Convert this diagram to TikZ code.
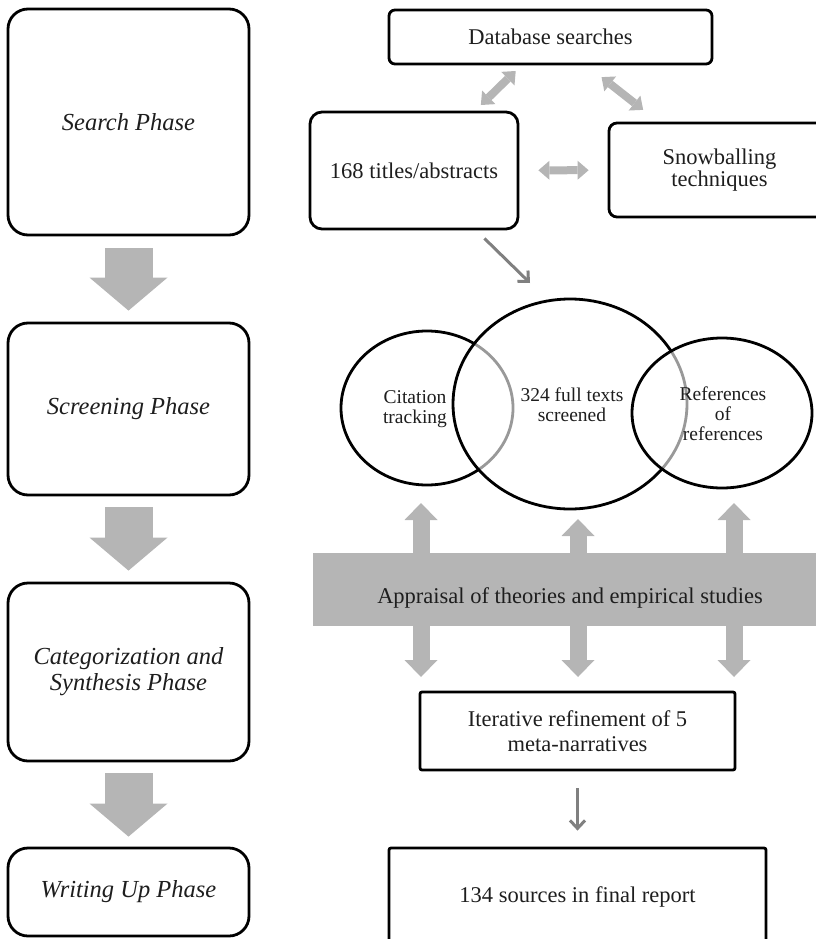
\documentclass[tikz,border=0pt]{standalone}
\usepackage{fontspec}
\setmainfont{Liberation Serif}
\usetikzlibrary{arrows.meta,shapes.geometric}
\definecolor{blk}{HTML}{B5B5B5}
\definecolor{thinc}{HTML}{808080}
\definecolor{txtc}{HTML}{1E1E1E}
\begin{document}
\begin{tikzpicture}[x=1pt,y=-1pt,
  phase/.style={draw, line width=2.8pt, rounded corners=20pt, minimum width=241pt,
    align=center, inner sep=0pt, text=txtc, font=\fontsize{24.5}{26}\selectfont\itshape},
  box/.style={draw, line width=2.8pt, align=center, inner sep=0pt, text=txtc,
    font=\fontsize{22.5}{25}\selectfont},
  ell/.style={draw, ellipse, line width=2.8pt, inner sep=0pt, fill=white, fill opacity=0.6},
  ctext/.style={align=center, text=txtc, font=\fontsize{19.5}{20}\selectfont},
  blockarrow/.style={draw=blk, line width=48pt, -{Triangle[width=78pt,length=33pt,line width=0pt]}},
  smallarrow/.style={draw=blk, line width=8pt,
    {Triangle[width=19pt,length=11pt,line width=0pt]}-{Triangle[width=19pt,length=11pt,line width=0pt]}},
  vbar/.style={draw=blk, line width=17pt, -{Triangle[width=33pt,length=17pt,line width=0pt]}},
  thinarrow/.style={draw=thinc, line width=3pt, -{Straight Barb[width=15pt,length=8pt]}}
]
\useasboundingbox (0,0) rectangle (815,939);

% left column
\node[phase, minimum height=226pt] (search) at (128.5,122) {Search Phase};
\node[phase, minimum height=172pt] (screen) at (128.5,409) {Screening Phase};
\node[phase, minimum height=178pt] (categ) at (128.5,672) {Categorization and\\Synthesis Phase};
\node[phase, minimum height=88pt] (write) at (128.5,892) {Writing Up Phase};

\draw[blockarrow, shorten <=12pt, shorten >=11pt] (search) -- (screen);
\draw[blockarrow, shorten <=11pt, shorten >=11pt] (screen) -- (categ);
\draw[blockarrow, shorten <=11pt, shorten >=10pt] (categ) -- (write);

% right top
\node[box, rounded corners=6pt, minimum width=323pt, minimum height=54pt] (db) at (550.5,37) {Database searches};
\node[box, rounded corners=12pt, minimum width=208pt, minimum height=117pt] (titles) at (414,170.5) {168 titles/abstracts};
\node[box, rounded corners=8pt, minimum width=221pt, minimum height=94pt,
  font=\fontsize{22.5}{21.5}\selectfont] (snow) at (719.5,170) {Snowballing\\techniques};

\draw[smallarrow, shorten <=8pt, shorten >=8pt] (db) -- (titles);
\draw[smallarrow, shorten <=19pt, shorten >=19pt] (db) -- (snow);
\draw[smallarrow, shorten <=19pt, shorten >=19pt] (titles) -- (snow);

\coordinate (t2) at (530,283);
\draw[thinarrow] ([shift={(-35,8)}]titles.south east) -- (t2);

% circles
\node[ell, minimum width=172pt, minimum height=154pt] (cit) at (427,408) {};
\node[ell, minimum width=234pt, minimum height=210pt] (full) at (570,404) {};
\node[ell, minimum width=180pt, minimum height=150pt] (refs) at (722,413) {};
\node[ctext] (citt) at (415,409) {Citation\\tracking};
\node[ctext] (fullt) at (572,405) {324 full texts\\screened};
\node[ctext] (refst) at (723,414) {References\\of\\references};

% band
\node[fill=blk, minimum width=517pt, minimum height=73pt, inner sep=0pt] (band) at (571.5,589.5) {};
\node[text=txtc, font=\fontsize{22.5}{25}\selectfont] (bandt) at (570,598) {Appraisal of theories and empirical studies};

\coordinate (u1) at (421,503);
\coordinate (u2) at (578,519);
\coordinate (u3) at (734,503);
\coordinate (d1) at (421,677);
\coordinate (d2) at (578,677);
\coordinate (d3) at (734,677);
\draw[vbar] ([yshift=-2pt]u1 |- band.north) -- (u1);
\draw[vbar] ([yshift=-2pt]u2 |- band.north) -- (u2);
\draw[vbar] ([yshift=-2pt]u3 |- band.north) -- (u3);
\draw[vbar] ([yshift=2pt]d1 |- band.south) -- (d1);
\draw[vbar] ([yshift=2pt]d2 |- band.south) -- (d2);
\draw[vbar] ([yshift=2pt]d3 |- band.south) -- (d3);

% bottom right
\node[box, rounded corners=2pt, minimum width=315pt, minimum height=78pt] (iter) at (577.5,731) {Iterative refinement of 5\\meta-narratives};
\node[box, rounded corners=2pt, minimum width=377pt, minimum height=97pt] (final) at (577.5,896.5) {134 sources in final report};
\draw[thinarrow, shorten <=17pt, shorten >=16pt] (iter) -- (final);
\end{tikzpicture}
\end{document}
